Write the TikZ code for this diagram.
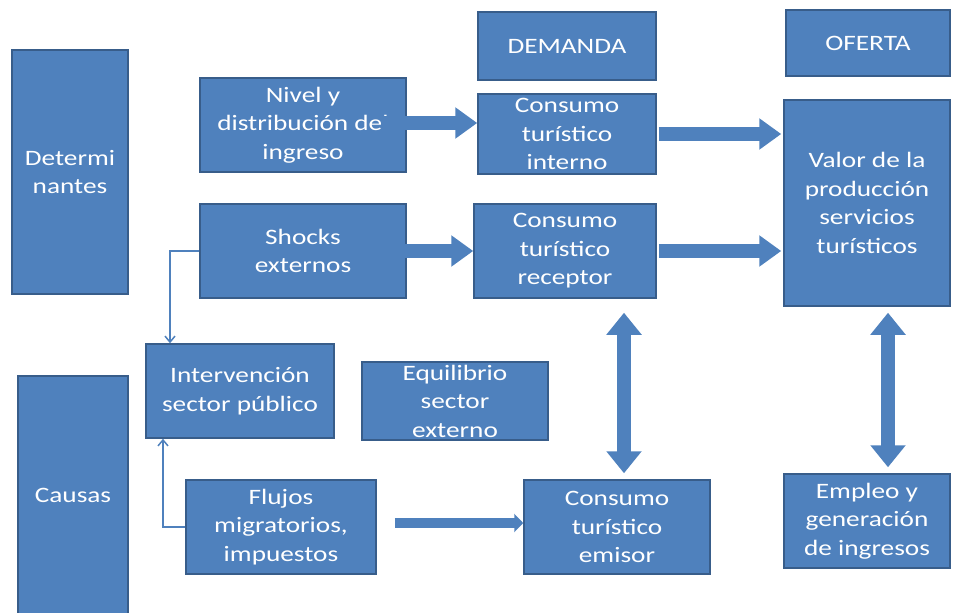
\documentclass[tikz,border=0pt]{standalone}
\usepackage{fontspec}
\setmainfont{Carlito}[FakeStretch=1.24]
\usetikzlibrary{arrows.meta}
\definecolor{caja}{RGB}{79,129,189}
\definecolor{borde}{RGB}{56,93,138}
\begin{document}
\begin{tikzpicture}[x=1pt,y=-1pt,
        caja/.style={draw=borde,line width=1.5pt,fill=caja,text=white,align=center,inner sep=0pt,font=\fontsize{22}{28.5}\selectfont},
        flecha/.style={draw=caja,line width=14pt,-{Triangle[length=22pt,width=30pt]}},
        dflecha/.style={draw=caja,line width=14pt,{Triangle[length=22pt,width=34pt]}-{Triangle[length=22pt,width=34pt]}},
        fina/.style={draw=caja,line width=1.5pt,-{Straight Barb[length=6pt,width=10pt]}}]
                \useasboundingbox (0,0) rectangle (954,613);
                \node[caja,minimum width=116pt,minimum height=244pt] (det) at (70,172) {Determi\\nantes};
                \node[caja,minimum width=110pt,minimum height=238pt] (causas) at (73,495) {Causas};
                \node[caja,minimum width=206pt,minimum height=94pt] (nivel) at (303,125) {Nivel y\\distribución del\\ingreso};
                \node[caja,minimum width=178pt,minimum height=68pt] (demanda) at (567,46) {DEMANDA};
                \node[caja,minimum width=164pt,minimum height=66pt] (oferta) at (868,43) {OFERTA};
                \node[caja,minimum width=178pt,minimum height=80pt] (interno) at (567,134) {Consumo\\turístico\\interno};
                \node[caja,minimum width=166pt,minimum height=206pt] (valor) at (867,203) {Valor de la\\producción\\servicios\\turísticos};
                \node[caja,minimum width=206pt,minimum height=94pt] (shocks) at (303,251) {Shocks\\externos};
                \node[caja,minimum width=182pt,minimum height=94pt] (receptor) at (565,251) {Consumo\\turístico\\receptor};
                \node[caja,minimum width=188pt,minimum height=94pt] (interv) at (240,391) {Intervención\\sector público};
                \node[caja,minimum width=186pt,minimum height=78pt] (equil) at (455,401) {Equilibrio\\sector\\externo};
                \node[caja,minimum width=190pt,minimum height=94pt] (flujos) at (281,527) {Flujos\\migratorios,\\impuestos};
                \node[caja,minimum width=186pt,minimum height=94pt] (emisor) at (617,527) {Consumo\\turístico\\emisor};
                \node[caja,minimum width=166pt,minimum height=94pt] (empleo) at (867,521) {Empleo y\\generación\\de ingresos};
                % flechas gruesas
                \draw[flecha] ([xshift=-26pt,yshift=2pt]nivel.east) -- ([yshift=2pt]interno.west |- nivel.east);
                \draw[flecha] ([xshift=2pt]interno.east) -- ([xshift=-2pt]interno.east -| valor.west);
                \draw[flecha] ([xshift=-26pt]shocks.east) -- (receptor.west);
                \draw[flecha] ([xshift=2pt]receptor.east) -- ([xshift=-2pt]receptor.east -| valor.west);
                \draw[dflecha] ([xshift=7pt,yshift=-14pt]emisor.north |- receptor.south) -- ([xshift=7pt,yshift=6pt]emisor.north);
                \draw[dflecha] ([xshift=21pt,yshift=-6pt]valor.south) -- ([xshift=21pt,yshift=6pt]empleo.north);
                \draw[draw=caja,line width=10pt,-{Triangle[length=9pt,width=18pt]}] ([xshift=18pt,yshift=4pt]flujos.east) -- ([yshift=4pt]emisor.west);
                % flechas finas
                \draw[fina] (shocks.west) -| ([xshift=-70pt]interv.north);
                \draw[fina] (flujos.west) -| ([xshift=-77pt]interv.south);
            \end{tikzpicture}
\end{document}
